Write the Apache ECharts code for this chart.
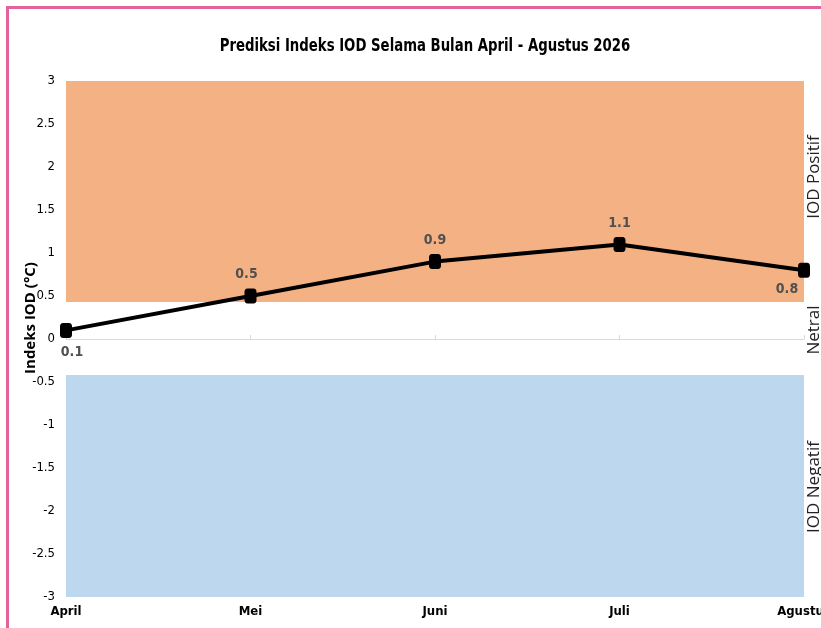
<!DOCTYPE html>
<html>
<head>
<meta charset="utf-8">
<script src="https://cdn.jsdelivr.net/npm/echarts@6/dist/echarts.min.js"></script>
<style>
    html, body { margin: 0; padding: 0; background: #fff; }
    #chart { width: 821px; height: 628px; }
</style>
</head>
<body>
<div id="chart"></div>
<script>
// data
const months = ['April', 'Mei', 'Juni', 'Juli', 'Agustus']
const iodValues = [0.1, 0.5, 0.9, 1.1, 0.8]
const positiveBand = [0.43, 3]
const negativeBand = [-3, -0.42]

const narrow = "'Liberation Sans Narrow', 'DejaVu Sans Condensed', sans-serif"

// label posisi per titik
const labelPos = [
    { position: 'bottom', offset: [6, 2] },
    { position: 'top', offset: [-4, -2] },
    { position: 'top', offset: [0, -2] },
    { position: 'top', offset: [0, -2] },
    { position: 'bottom', offset: [-17, 0] }
]

const chart = echarts.init(document.getElementById('chart'))

const option = {
    animation: false,
    grid: { left: 66, right: 17, top: 81, bottom: 31, containLabel: false, outerBoundsMode: 'none' },
    xAxis: [
        {
            type: 'category',
            data: months,
            boundaryGap: false,
            position: 'bottom',
            axisLine: { onZero: true, lineStyle: { color: '#d9d9d9', width: 1 } },
            axisTick: { show: true, inside: true, length: 4, lineStyle: { color: '#d9d9d9' } },
            axisLabel: { show: false },
            splitLine: { show: false }
        },
        {
            type: 'category',
            data: months,
            boundaryGap: false,
            position: 'bottom',
            axisLine: { show: false, onZero: false },
            axisTick: { show: false },
            axisLabel: {
                margin: 8,
                fontFamily: narrow, fontSize: 13, fontWeight: 'bold', color: '#000'
            },
            splitLine: { show: false }
        }
    ],
    yAxis: {
        type: 'value',
        min: -3,
        max: 3,
        interval: 0.5,
        axisLine: { show: false },
        axisTick: { show: false },
        splitLine: { show: false },
        axisLabel: { margin: 11, fontFamily: narrow, fontSize: 13, color: '#000' }
    },
    series: [
        {
            name: 'IOD',
            type: 'line',
            xAxisIndex: 0,
            data: iodValues.map((v, i) => ({ value: v, label: labelPos[i] })),
            symbol: 'roundRect',
            symbolSize: [12, 15],
            itemStyle: { color: '#000' },
            lineStyle: { color: '#000', width: 4 },
            label: {
                show: true,
                fontFamily: narrow,
                fontSize: 14,
                fontWeight: 'bold',
                color: '#505050'
            },
            z: 5,
            markArea: {
                silent: true,
                itemStyle: { opacity: 1 },
                data: [
                    [
                        { yAxis: positiveBand[0], itemStyle: { color: '#F4B183' } },
                        { yAxis: positiveBand[1] }
                    ],
                    [
                        { yAxis: negativeBand[0], itemStyle: { color: '#BDD7EE' } },
                        { yAxis: negativeBand[1] }
                    ]
                ]
            }
        }
    ],
    graphic: [
        // bingkai pink
        { type: 'line', shape: { x1: 7, y1: 7.5, x2: 821, y2: 7.5 }, style: { stroke: '#E0649A', lineWidth: 3 } },
        { type: 'line', shape: { x1: 7.5, y1: 6, x2: 7.5, y2: 628 }, style: { stroke: '#E0649A', lineWidth: 3 } },
        // judul, dipadatkan agar mirip Calibri
        {
            type: 'text', x: 425, y: 46, scaleX: 0.82,
            style: {
                text: 'Prediksi Indeks IOD Selama Bulan April - Agustus 2026',
                textAlign: 'center', textVerticalAlign: 'middle',
                font: "bold 18px 'DejaVu Sans Condensed', sans-serif", fill: '#000'
            }
        },
        {
            type: 'text', x: 31, y: 318, rotation: Math.PI / 2,
            style: {
                text: 'Indeks IOD (°C)', textAlign: 'center', textVerticalAlign: 'middle',
                font: "bold 15px 'Open Sans', sans-serif", fill: '#000'
            }
        },
        {
            type: 'text', x: 814, y: 177, rotation: Math.PI / 2,
            style: {
                text: 'IOD Positif', textAlign: 'center', textVerticalAlign: 'middle',
                font: "17px 'Open Sans', sans-serif", fill: '#222'
            }
        },
        {
            type: 'text', x: 814, y: 330, rotation: Math.PI / 2,
            style: {
                text: 'Netral', textAlign: 'center', textVerticalAlign: 'middle',
                font: "17px 'Open Sans', sans-serif", fill: '#222'
            }
        },
        {
            type: 'text', x: 814, y: 487, rotation: Math.PI / 2,
            style: {
                text: 'IOD Negatif', textAlign: 'center', textVerticalAlign: 'middle',
                font: "17px 'Open Sans', sans-serif", fill: '#222'
            }
        }
    ]
}

chart.setOption(option)
</script>
</body>
</html>
